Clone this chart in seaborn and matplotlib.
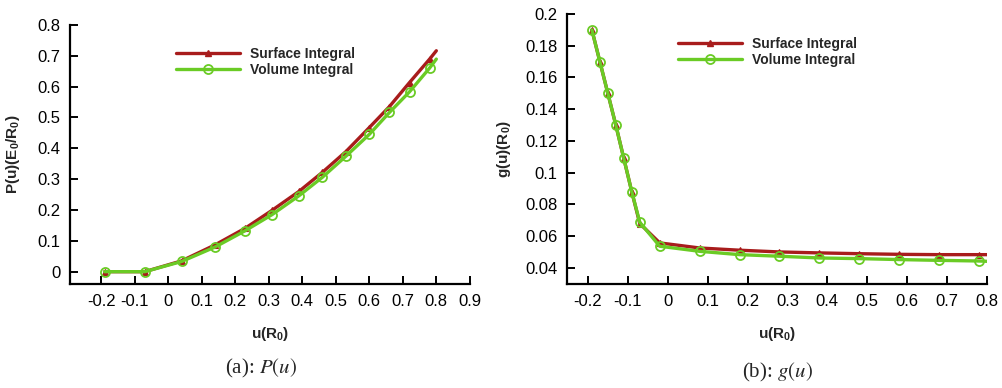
import numpy as np
import seaborn as sns
import matplotlib.pyplot as plt
from matplotlib.lines import Line2D

# (a) P(u)
p_u = [-0.19, -0.07, 0.04, 0.14, 0.23, 0.31, 0.39, 0.46, 0.53, 0.60, 0.66, 0.72, 0.78, 0.80]
p_surface = [0.0, 0.0, 0.035, 0.087, 0.141, 0.199, 0.260, 0.322, 0.389, 0.467, 0.535, 0.613, 0.689, 0.716]
p_volume = [0.0, 0.0, 0.033, 0.080, 0.133, 0.185, 0.246, 0.306, 0.374, 0.445, 0.516, 0.583, 0.660, 0.689]

# (b) g(u)
g_u = [-0.19, -0.17, -0.15, -0.13, -0.11, -0.09, -0.07, -0.02, 0.08, 0.18, 0.28,
       0.38, 0.48, 0.58, 0.68, 0.78, 0.80]
g_surface = [0.190, 0.170, 0.150, 0.130, 0.109, 0.088, 0.068, 0.0558, 0.0526, 0.0512,
             0.0501, 0.0495, 0.0490, 0.0486, 0.0484, 0.0484, 0.0484]
g_volume = [0.190, 0.170, 0.150, 0.130, 0.109, 0.088, 0.0688, 0.0537, 0.0505, 0.0484,
            0.0474, 0.0463, 0.0459, 0.0453, 0.0448, 0.0444, 0.0442]

p_xticks = [-0.2, -0.1, 0, 0.1, 0.2, 0.3, 0.4, 0.5, 0.6, 0.7, 0.8, 0.9]
p_yticks = [0, 0.1, 0.2, 0.3, 0.4, 0.5, 0.6, 0.7, 0.8]
g_xticks = [-0.2, -0.1, 0, 0.1, 0.2, 0.3, 0.4, 0.5, 0.6, 0.7, 0.8]
g_yticks = [0.04, 0.06, 0.08, 0.1, 0.12, 0.14, 0.16, 0.18, 0.2]

series_names = ['Surface Integral', 'Volume Integral']

RED = '#a81c1c'
GREEN = '#6acb25'

sns.set_style('white')
plt.rcParams['font.family'] = ['Liberation Sans', 'DejaVu Sans']
plt.rcParams['axes.unicode_minus'] = False
plt.rcParams['mathtext.fontset'] = 'custom'
plt.rcParams['mathtext.rm'] = 'Liberation Sans'
plt.rcParams['mathtext.bf'] = 'Liberation Sans:bold'

fig = plt.figure(figsize=(10.02, 3.88), dpi=100)
ax1 = fig.add_axes([0.0699, 0.268, 0.399, 0.668])
ax2 = fig.add_axes([0.566, 0.268, 0.419, 0.696])


def draw(ax, x, surf, vol):
    n = len(x) - 1
    sns.lineplot(x=x, y=surf, ax=ax, color=RED, lw=2.4, sort=False, marker='^',
                 markersize=5, markevery=slice(0, n), markerfacecolor=RED,
                 markeredgecolor=RED, markeredgewidth=0.8, zorder=3)
    sns.lineplot(x=x, y=vol, ax=ax, color=GREEN, lw=2.4, sort=False, marker='o',
                 markersize=6.5, markevery=slice(0, n), markerfacecolor='none',
                 markeredgecolor=GREEN, markeredgewidth=1.3, zorder=4)


def style(ax, xticks, yticks, xlim, ylim, ylabel, ylabelpad, leg_anchor):
    ax.set_xlim(*xlim)
    ax.set_ylim(*ylim)
    ax.set_xticks(xticks)
    ax.set_xticklabels([f'{v:g}' for v in xticks])
    ax.set_yticks(yticks)
    ax.set_yticklabels([f'{v:g}' for v in yticks])
    sns.despine(ax=ax)
    for s in ['left', 'bottom']:
        ax.spines[s].set_linewidth(1.6)
        ax.spines[s].set_color('black')
    ax.tick_params(direction='in', length=6, width=1.4, labelsize=12, pad=7,
                   left=True, bottom=True, colors='black')
    ax.set_xlabel(r'u(R$_\mathbf{0}$)', fontsize=11, fontweight='bold', labelpad=12)
    ax.set_ylabel(ylabel, fontsize=11, fontweight='bold', labelpad=ylabelpad)
    handles = [
        Line2D([], [], color=RED, lw=2.4, marker='^', markersize=5),
        Line2D([], [], color=GREEN, lw=2.4, marker='o', markersize=6.5,
               markerfacecolor='none', markeredgewidth=1.3),
    ]
    ax.legend(handles, series_names, loc='upper left', bbox_to_anchor=leg_anchor,
              frameon=False, handlelength=4.6, handletextpad=0.7, labelspacing=0.15,
              prop={'weight': 'bold', 'size': 10})


draw(ax1, p_u, p_surface, p_volume)
style(ax1, p_xticks, p_yticks, (-0.293, 0.9), (-0.04, 0.8),
      r'P(u)(E$_\mathbf{0}$/R$_\mathbf{0}$)', 11, (0.235, 0.962))

draw(ax2, g_u, g_surface, g_volume)
style(ax2, g_xticks, g_yticks, (-0.252, 0.8), (0.0299, 0.2),
      r'g(u)(R$_\mathbf{0}$)', 9, (0.235, 0.96))

fig.text(0.261, 0.05, r'(a): $P(u)$', ha='center', va='center', fontsize=15,
         family='Liberation Serif', math_fontfamily='stix')
fig.text(0.776, 0.04, r'(b): $g(u)$', ha='center', va='center', fontsize=15,
         family='Liberation Serif', math_fontfamily='stix')

fig.savefig('out.png', dpi=100)
